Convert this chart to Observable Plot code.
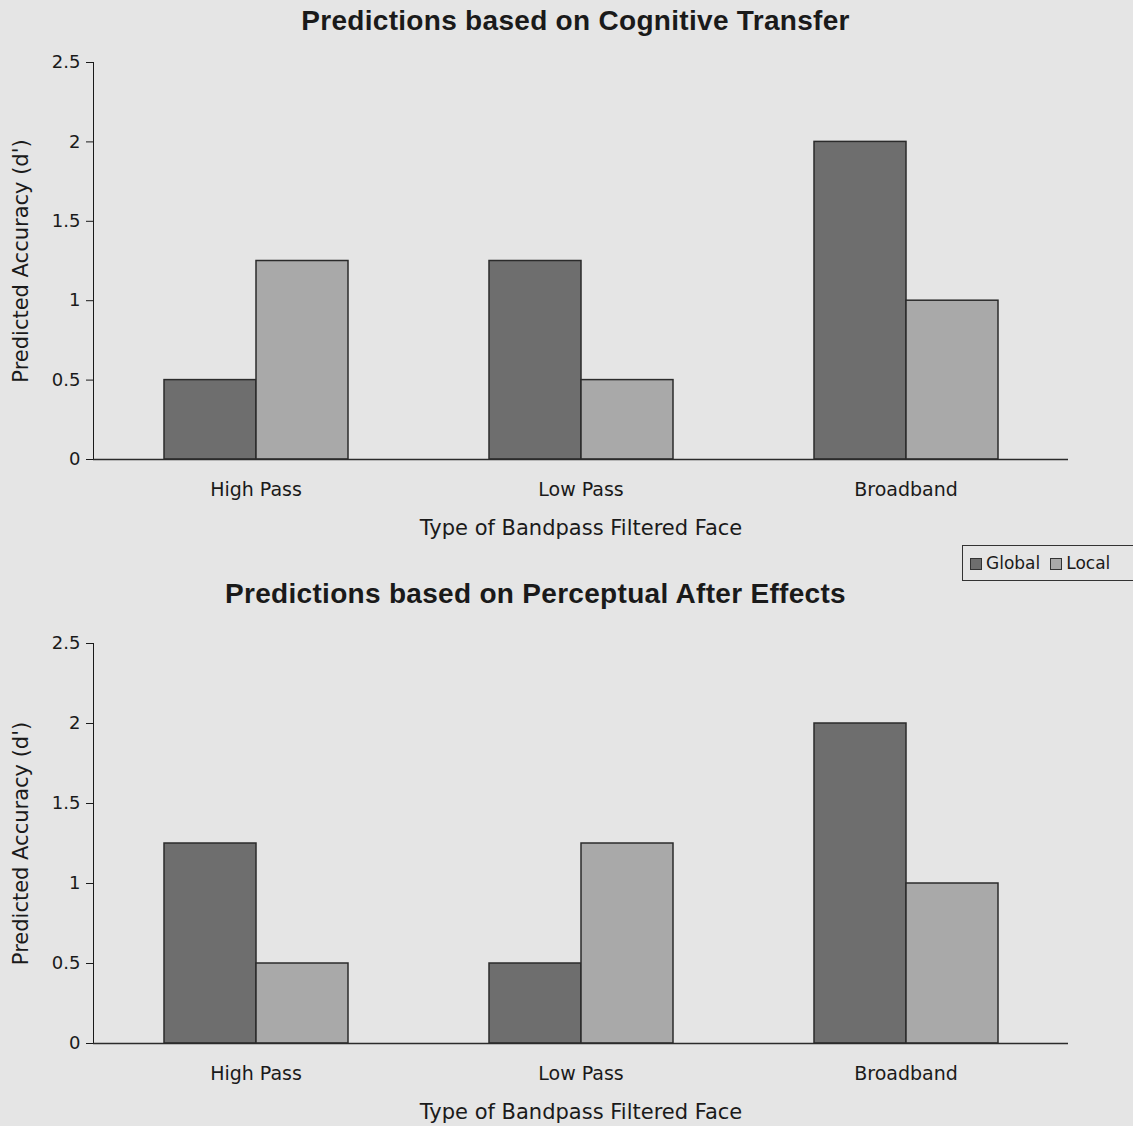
<!DOCTYPE html>
<html>
<head>
<meta charset="utf-8">
<script src="https://cdn.jsdelivr.net/npm/d3@7"></script>
<script src="https://cdn.jsdelivr.net/npm/@observablehq/plot@0.6"></script>
<style>
  html, body { margin: 0; padding: 0; background: #e5e5e5; }
  #root { position: relative; width: 1133px; height: 1126px; overflow: hidden; background: #e5e5e5; font-family: "DejaVu Sans", sans-serif; }
  .title { position: absolute; width: 1133px; text-align: center; font-family: "Liberation Sans", Arial, sans-serif; font-weight: bold; font-size: 28px; letter-spacing: 0.3px; color: #1a1a1a; }
  .plot { position: absolute; left: 0; }
  #legend { position: absolute; left: 962px; top: 545px; width: 190px; height: 36px; border: 1.5px solid #333; box-sizing: border-box; display: flex; align-items: center; gap: 10px; padding-left: 7px; font-size: 17px; color: #1a1a1a; background: #e5e5e5; }
  .sw { display: inline-block; width: 10px; height: 10px; border: 1.5px solid #333; margin-right: 4px; vertical-align: -1px; }
  g[aria-label="fx-axis tick label"] text { font-size: 19px; }
  g[aria-label="fx-axis label"] text, g[aria-label="y-axis label"] text { font-size: 21px; }
</style>
</head>
<body>
<div id="root">
  <div class="title" style="top:5px; left:9px">Predictions based on Cognitive Transfer</div>
  <div class="plot" id="p1" style="top:40px"></div>
  <div id="legend"></div>
  <div class="title" style="top:578px; left:-31px">Predictions based on Perceptual After Effects</div>
  <div class="plot" id="p2" style="top:620px"></div>
</div>
<script>
const categories = ["High Pass", "Low Pass", "Broadband"];
const series = ["Global", "Local"];
const cognitiveGlobal = [0.5, 1.25, 2];
const cognitiveLocal = [1.25, 0.5, 1];
const perceptualGlobal = [1.25, 0.5, 2];
const perceptualLocal = [0.5, 1.25, 1];
const yTicks = [0, 0.5, 1, 1.5, 2, 2.5];
const yLabel = "Predicted Accuracy (d')";
const xLabel = "Type of Bandpass Filtered Face";
const seriesColors = ["#6e6e6e", "#a9a9a9"];

function rows(g, l) {
  return categories.flatMap((c, i) => [
    {category: c, series: series[0], value: g[i]},
    {category: c, series: series[1], value: l[i]}
  ]);
}

function chart(data, height, marginTop, marginBottom) {
  return Plot.plot({
    width: 1133,
    height,
    marginLeft: 93,
    marginRight: 65,
    marginTop,
    marginBottom,
    style: {background: "transparent", fontFamily: "DejaVu Sans, sans-serif", fontSize: "18px", color: "#1a1a1a", overflow: "visible"},
    fx: {domain: categories, padding: 0, axis: "bottom", tickSize: 0, tickPadding: 23, label: xLabel, labelAnchor: "center", labelOffset: 75, labelArrow: "none"},
    x: {domain: series, paddingInner: 0, paddingOuter: 0.75, axis: null},
    y: {domain: [0, 2.5], ticks: yTicks, tickSize: 7, tickPadding: 6, line: true, label: yLabel, labelAnchor: "center", labelOffset: 80, labelArrow: "none", tickFormat: d => String(d)},
    color: {domain: series, range: seriesColors},
    marks: [
      Plot.barY(data, {fx: "category", x: "series", y: "value", fill: "series", stroke: "#2b2b2b", strokeWidth: 1.5}),
      Plot.ruleY([0], {stroke: "#2b2b2b", strokeWidth: 1.5})
    ]
  });
}

document.getElementById("p1").appendChild(chart(rows(cognitiveGlobal, cognitiveLocal), 499, 22, 80));
document.getElementById("p2").appendChild(chart(rows(perceptualGlobal, perceptualLocal), 506, 23, 83));

const legend = document.getElementById("legend");
series.forEach((s, i) => {
  const item = document.createElement("span");
  const sw = document.createElement("span");
  sw.className = "sw";
  sw.style.background = seriesColors[i];
  item.appendChild(sw);
  item.appendChild(document.createTextNode(s));
  legend.appendChild(item);
});
</script>
</body>
</html>
